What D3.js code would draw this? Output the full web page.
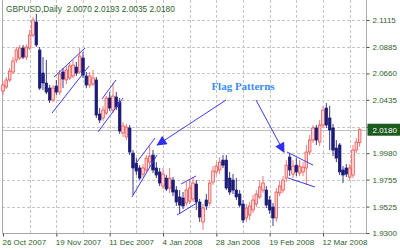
<!DOCTYPE html>
<html>
<head>
<meta charset="utf-8">
<script src="https://cdn.jsdelivr.net/npm/d3@7"></script>
<style>
  body { margin: 0; background: #fff; }
  svg { display: block; font-family: "Liberation Sans", Arial, sans-serif; }
</style>
</head>
<body>
<svg width="400" height="250"></svg>
<script>
// GBPUSD daily bars, 26 Oct 2007 onwards
var opens  = [2.0510,2.0544,2.0604,2.0672,2.0774,2.0791,2.0876,2.0799,2.0876,2.0987,2.1098,2.0859,2.0663,2.0578,2.0535,2.0433,2.0552,2.0501,
              2.0672,2.0604,2.0621,2.0638,2.0714,2.0672,2.0791,2.0638,2.0561,2.0569,2.0604,2.0314,2.0280,2.0322,2.0450,2.0348,2.0459,2.0416,
              2.0152,2.0118,2.0195,1.9981,1.9895,1.9854,1.9802,1.9837,1.9904,1.9964,1.9854,1.9820,1.9700,1.9768,1.9683,1.9751,1.9666,1.9607,
              1.9598,1.9555,1.9572,1.9590,1.9717,1.9564,1.9394,1.9581,1.9555,1.9734,1.9820,1.9837,1.9921,1.9921,1.9768,1.9751,1.9666,1.9632,
              1.9547,1.9428,1.9453,1.9496,1.9547,1.9607,1.9666,1.9666,1.9581,1.9521,1.9428,1.9641,1.9666,1.9768,1.9947,1.9802,1.9878,1.9811,
              1.9820,1.9854,1.9990,2.0092,2.0195,2.0075,2.0220,2.0365,2.0280,2.0195,2.0024,2.0050,1.9837,1.9854,1.9777,1.9794,2.0007,2.0070];
var highs  = [2.0595,2.0629,2.0706,2.0799,2.0885,2.0902,2.0902,2.0910,2.1029,2.1140,2.1166,2.0885,2.0799,2.0774,2.0561,2.0561,2.0604,2.0689,
              2.0706,2.0723,2.0748,2.0774,2.0757,2.0876,2.0842,2.0672,2.0672,2.0689,2.0629,2.0365,2.0382,2.0467,2.0501,2.0578,2.0501,2.0450,
              2.0246,2.0229,2.0220,2.0007,1.9938,1.9878,1.9887,1.9964,2.0041,2.0007,1.9904,1.9854,1.9854,1.9794,1.9854,1.9777,1.9700,1.9666,
              1.9649,1.9734,1.9751,1.9777,1.9751,1.9590,1.9547,1.9632,1.9751,1.9870,1.9904,1.9947,1.9964,1.9964,1.9820,1.9802,1.9768,1.9666,
              1.9581,1.9547,1.9564,1.9624,1.9666,1.9751,1.9785,1.9700,1.9615,1.9555,1.9683,1.9743,1.9785,1.9921,1.9981,1.9921,1.9938,1.9921,
              1.9904,2.0050,2.0135,2.0220,2.0220,2.0263,2.0382,2.0407,2.0382,2.0229,2.0092,2.0067,1.9870,1.9887,1.9887,2.0050,2.0109,2.0193];
var lows   = [2.0476,2.0527,2.0587,2.0655,2.0748,2.0774,2.0782,2.0774,2.0859,2.0970,2.0885,2.0518,2.0518,2.0484,2.0407,2.0416,2.0476,2.0476,
              2.0535,2.0569,2.0604,2.0621,2.0638,2.0655,2.0621,2.0535,2.0535,2.0552,2.0280,2.0237,2.0254,2.0305,2.0339,2.0322,2.0348,2.0144,
              2.0118,2.0092,1.9964,1.9624,1.9794,1.9751,1.9777,1.9820,1.9861,1.9811,1.9768,1.9700,1.9675,1.9658,1.9641,1.9615,1.9530,1.9462,
              1.9504,1.9530,1.9547,1.9564,1.9496,1.9394,1.9326,1.9496,1.9530,1.9709,1.9794,1.9802,1.9854,1.9666,1.9624,1.9632,1.9581,1.9521,
              1.9385,1.9394,1.9411,1.9470,1.9521,1.9590,1.9641,1.9513,1.9462,1.9360,1.9394,1.9615,1.9641,1.9734,1.9785,1.9768,1.9785,1.9785,
              1.9785,1.9709,1.9964,2.0067,2.0050,2.0041,2.0195,2.0195,2.0007,1.9955,1.9904,1.9794,1.9726,1.9777,1.9751,1.9768,1.9981,2.0035];
var closes = [2.0561,2.0604,2.0680,2.0765,2.0859,2.0876,2.0799,2.0885,2.0987,2.1115,2.0902,2.0535,2.0578,2.0501,2.0433,2.0535,2.0501,2.0655,
              2.0612,2.0689,2.0723,2.0731,2.0663,2.0808,2.0646,2.0561,2.0638,2.0621,2.0305,2.0263,2.0348,2.0450,2.0365,2.0467,2.0373,2.0169,
              2.0212,2.0203,1.9990,1.9854,1.9828,1.9768,1.9854,1.9938,1.9955,1.9837,1.9794,1.9726,1.9802,1.9675,1.9768,1.9649,1.9564,1.9538,
              1.9530,1.9666,1.9683,1.9726,1.9564,1.9436,1.9513,1.9530,1.9726,1.9828,1.9870,1.9904,1.9878,1.9683,1.9649,1.9666,1.9607,1.9538,
              1.9411,1.9513,1.9530,1.9581,1.9632,1.9692,1.9726,1.9538,1.9496,1.9428,1.9649,1.9700,1.9751,1.9878,1.9837,1.9870,1.9820,1.9870,
              1.9861,1.9990,2.0092,2.0195,2.0092,2.0220,2.0348,2.0220,2.0178,2.0007,1.9938,1.9820,1.9794,1.9802,1.9854,2.0007,2.0075,2.0180];

var priceTicks = [2.1115, 2.0885, 2.0660, 2.0435, 2.0205, 1.9980, 1.9755, 1.9525, 1.9300];
var dateLabels = ["26 Oct 2007", "19 Nov 2007", "11 Dec 2007", "4 Jan 2008", "28 Jan 2008", "19 Feb 2008", "12 Mar 2008"];
var lastPrice = 2.0180;
var title = "GBPUSD,Daily  2.0070 2.0193 2.0035 2.0180";

// trend lines drawn on the chart: [[bar, price], [bar, price]]
var flagLines = [
  [[15.3, 2.0629], [24.6, 2.0876]], [[14.7, 2.0322], [25.8, 2.0723]],
  [[29.7, 2.0442], [33.9, 2.0604]], [[28.5, 2.0161], [36.0, 2.0450]],
  [[40.2, 1.9905], [45.6, 2.0109]], [[38.7, 1.9607], [46.2, 1.9965]],
  [[53.4, 1.9717], [57.9, 1.9786]], [[52.2, 1.9453], [58.2, 1.9556]],
  [[85.2, 1.9990], [93.0, 1.9879]], [[85.5, 1.9769], [93.6, 1.9692]]
];
var arrows = [
  [[66.9, 2.0433], [46.3, 2.0050]],
  [[75.9, 2.0433], [84.3, 1.9990]]
];
var note = {text: "Flag Patterns", bar: 72, price: 2.0518};

function createChart() {
  var svg = d3.select("svg"),
      left = 2, right = 366.5, bottom = 233.5,
      n = closes.length,
      bw = 2.6,
      txt = "#2e5e2e";

  var x = d3.scaleLinear().domain([0, n - 1]).range([3, 3 + (n - 1) * 10 / 3]);
  var y = d3.scaleLinear().domain([1.9300, 2.1115]).range([233, 20]);

  // grid
  svg.append("g").selectAll("line")
    .data(priceTicks.slice(0, -1))
    .enter().append("line")
      .attr("x1", left).attr("x2", right)
      .attr("y1", function(d) { return Math.round(y(d)) + 0.5; })
      .attr("y2", function(d) { return Math.round(y(d)) + 0.5; })
      .attr("stroke", "#c6c6c6").attr("stroke-dasharray", "3,2");

  svg.append("g").selectAll("line")
    .data(d3.range(8, n, 8))
    .enter().append("line")
      .attr("x1", function(d) { return Math.round(x(d)) + 0.5; })
      .attr("x2", function(d) { return Math.round(x(d)) + 0.5; })
      .attr("y1", 0).attr("y2", bottom)
      .attr("stroke", "#c6c6c6").attr("stroke-dasharray", "3,2");

  // last price line
  svg.append("line")
    .attr("x1", left).attr("x2", right)
    .attr("y1", Math.round(y(lastPrice)) + 0.5).attr("y2", Math.round(y(lastPrice)) + 0.5)
    .attr("stroke", "#bdbdbd");

  // frame
  svg.append("path")
    .attr("d", "M" + (left + 0.5) + ",0V" + bottom + "H" + right + "V0")
    .attr("fill", "none").attr("stroke", "#a8a8a8");

  // candles
  var bars = svg.append("g").selectAll("g")
    .data(d3.range(n))
    .enter().append("g");

  bars.append("line")
    .attr("x1", function(i) { return x(i); })
    .attr("x2", function(i) { return x(i); })
    .attr("y1", function(i) { return y(highs[i]); })
    .attr("y2", function(i) { return y(lows[i]); })
    .attr("stroke", function(i) { return closes[i] >= opens[i] ? "#f06a6a" : "#25257e"; })
    .attr("stroke-width", 0.9);

  bars.append("rect")
    .attr("x", function(i) { return x(i) - bw / 2; })
    .attr("y", function(i) { return y(Math.max(opens[i], closes[i])); })
    .attr("width", bw)
    .attr("height", function(i) { return Math.max(1, Math.abs(y(opens[i]) - y(closes[i]))); })
    .attr("fill", function(i) { return closes[i] >= opens[i] ? "#ffd4d4" : "#1b1b78"; })
    .attr("stroke", function(i) { return closes[i] >= opens[i] ? "#ec3c3c" : "#1b1b78"; })
    .attr("stroke-width", 0.7);

  // flag trend lines
  svg.append("g").selectAll("line")
    .data(flagLines)
    .enter().append("line")
      .attr("x1", function(d) { return x(d[0][0]); })
      .attr("y1", function(d) { return y(d[0][1]); })
      .attr("x2", function(d) { return x(d[1][0]); })
      .attr("y2", function(d) { return y(d[1][1]); })
      .attr("stroke", "#3b3bf0").attr("stroke-width", 1);

  // arrows
  svg.append("defs").append("marker")
    .attr("id", "head")
    .attr("viewBox", "0 0 10 10")
    .attr("refX", 9).attr("refY", 5)
    .attr("markerUnits", "userSpaceOnUse")
    .attr("markerWidth", 12).attr("markerHeight", 10)
    .attr("orient", "auto")
    .append("path")
      .attr("d", "M0,0L10,5L0,10z")
      .attr("fill", "#2f2ff0");

  svg.append("g").selectAll("line")
    .data(arrows)
    .enter().append("line")
      .attr("x1", function(d) { return x(d[0][0]); })
      .attr("y1", function(d) { return y(d[0][1]); })
      .attr("x2", function(d) { return x(d[1][0]); })
      .attr("y2", function(d) { return y(d[1][1]); })
      .attr("stroke", "#3b3bf0").attr("stroke-width", 1)
      .attr("marker-end", "url(#head)");

  svg.append("text")
    .attr("x", x(note.bar)).attr("y", y(note.price))
    .attr("text-anchor", "middle")
    .style("font", "bold 11px 'Liberation Serif', 'Times New Roman', serif")
    .attr("fill", "#3a8cf2")
    .text(note.text);

  // right price axis
  var ay = svg.append("g")
    .attr("transform", "translate(" + right + ",0)")
    .call(d3.axisRight(y).tickValues(priceTicks).tickSize(3).tickPadding(3).tickFormat(d3.format(".4f")));
  ay.select(".domain").remove();
  ay.selectAll("line").attr("stroke", txt);
  ay.selectAll("text").attr("fill", txt).style("font", "8px 'Liberation Sans', Arial, sans-serif");

  // last price box
  svg.append("rect")
    .attr("x", right + 1).attr("y", y(lastPrice) - 6)
    .attr("width", 400 - right).attr("height", 12)
    .attr("fill", "#1d5a1d");
  svg.append("text")
    .attr("x", right + 6).attr("y", y(lastPrice) + 3)
    .attr("fill", "#fff")
    .style("font", "8px 'Liberation Sans', Arial, sans-serif")
    .text(d3.format(".4f")(lastPrice));

  // bottom date axis
  var ax = svg.append("g")
    .attr("transform", "translate(0," + bottom + ")")
    .call(d3.axisBottom(x).tickValues(d3.range(0, n, 16)).tickSize(3)
      .tickFormat(function(d, i) { return dateLabels[i]; }));
  ax.select(".domain").remove();
  ax.selectAll("line").attr("stroke", txt);
  ax.selectAll("text")
    .attr("text-anchor", "start").attr("x", -1)
    .attr("fill", txt).style("font", "8px 'Liberation Sans', Arial, sans-serif");

  // title
  svg.append("text")
    .attr("x", 6).attr("y", 11.5)
    .attr("fill", txt)
    .style("font", "8.3px 'Liberation Sans', Arial, sans-serif")
    .attr("xml:space", "preserve")
    .text(title);
}

createChart();
</script>
</body>
</html>
